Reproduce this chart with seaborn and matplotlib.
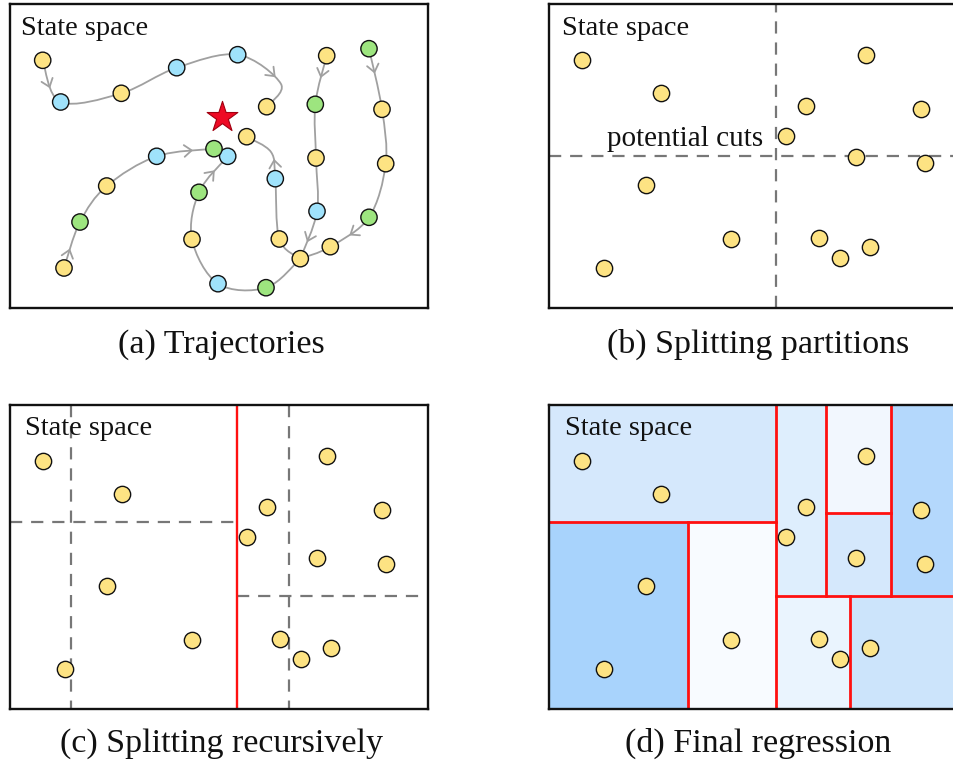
import numpy as np
import pandas as pd
import matplotlib
matplotlib.use("Agg")
import matplotlib.pyplot as plt
import seaborn as sns
from matplotlib.path import Path
from matplotlib.patches import PathPatch, Rectangle

# ---------------- data (panel-relative pixel coordinates) ----------------
# panel (a): trajectory nodes
traj_a_x = [32.7, 50.7, 111.3, 166.7, 227.7, 271.0, 256.7]
traj_a_y = [56.3, 98.0, 89.3, 63.7, 50.7, 80.0, 102.7]
traj_b_x = [54.0, 70.0, 96.7, 146.7, 204.0]
traj_b_y = [264.0, 218.0, 182.0, 152.3, 144.7]
traj_c_x = [290.3, 256.0, 208.0, 182.0, 189.0, 217.7]
traj_c_y = [254.7, 283.7, 279.7, 235.3, 188.3, 152.3]
traj_d_x = [290.3, 269.3, 265.3, 261.0, 236.7]
traj_d_y = [254.7, 235.0, 174.7, 148.0, 132.7]
traj_e_x = [316.7, 305.3, 306.0, 307.0, 290.3]
traj_e_y = [51.7, 100.3, 154.0, 207.3, 254.7]
traj_f_x = [359.0, 372.0, 375.7, 359.0, 320.3, 290.3]
traj_f_y = [44.7, 105.3, 159.7, 213.3, 242.7, 254.7]
trajectories = [(traj_a_x, traj_a_y), (traj_b_x, traj_b_y), (traj_c_x, traj_c_y),
                (traj_d_x, traj_d_y), (traj_e_x, traj_e_y), (traj_f_x, traj_f_y)]
# arrows: (trajectory index, segment index, position along segment)
arrow_traj = [0, 0, 1, 1, 2, 3, 4, 4, 5, 5]
arrow_seg = [0, 4, 0, 3, 4, 2, 0, 3, 0, 3]
arrow_t = [0.6, 0.75, 0.45, 0.55, 0.5, 0.6, 0.5, 0.55, 0.45, 0.5]

# panel (a): visited states
state_x = [32.7, 111.3, 256.7, 236.7, 96.7, 182.0, 269.3, 290.3, 54.0, 306.0, 316.7, 372.0, 375.7, 320.3,
           50.7, 166.7, 227.7, 146.7, 217.7, 265.3, 208.0, 307.0,
           204.0, 189.0, 70.0, 256.0, 305.3, 359.0, 359.0]
state_y = [56.3, 89.3, 102.7, 132.7, 182.0, 235.3, 235.0, 254.7, 264.0, 154.0, 51.7, 105.3, 159.7, 242.7,
           98.0, 63.7, 50.7, 152.3, 152.3, 174.7, 279.7, 207.3,
           144.7, 188.3, 218.0, 283.7, 100.3, 44.7, 213.3]
state_kind = ["y"] * 14 + ["b"] * 8 + ["g"] * 7
star_x, star_y = [211.7], [113.3]

# panels (b)-(d): samples
pts_x = [33.3, 111.7, 317.0, 257.3, 372.3, 237.0, 306.7, 376.3, 97.3, 182.3, 270.0, 291.0, 321.0, 54.7]
pts_y = [56.0, 88.7, 51.3, 102.3, 104.7, 131.7, 153.3, 159.3, 181.3, 235.3, 234.3, 254.0, 242.7, 263.7]

# panel (b) potential cuts
cut_v = 227.0
cut_h = 151.7

# panel (c): recursive split (x0, y0, x1, y1)
red_c = [(227.0, 0.0, 227.0, 304.0)]
dash_c = [(0.0, 117.0, 227.0, 117.0), (60.7, 0.0, 60.7, 304.0),
          (279.0, 0.0, 279.0, 304.0), (227.0, 190.7, 418.0, 190.7)]

# panel (d): leaf regions (x0, y0, x1, y1) and colours
reg_x0 = [0.0, 0.0, 139.3, 227.0, 277.0, 277.0, 341.7, 227.0, 301.3]
reg_y0 = [0.0, 117.3, 117.3, 0.0, 0.0, 108.3, 0.0, 190.7, 190.7]
reg_x1 = [227.0, 139.3, 227.0, 277.0, 341.7, 341.7, 418.0, 301.3, 418.0]
reg_y1 = [117.3, 304.0, 304.0, 190.7, 108.3, 190.7, 190.7, 304.0, 304.0]
reg_col = ["#d5e8fc", "#a8d3fc", "#f8fbff", "#deeefd", "#f2f7fe", "#d5e8fc", "#b4d8fc", "#eaf4fe", "#cce4fb"]
red_d = [(0.0, 117.3, 227.0, 117.3), (139.3, 117.3, 139.3, 304.0), (227.0, 0.0, 227.0, 304.0),
         (277.0, 0.0, 277.0, 190.7), (227.0, 190.7, 418.0, 190.7), (277.0, 108.3, 341.7, 108.3),
         (341.7, 0.0, 341.7, 190.7), (301.3, 190.7, 301.3, 304.0)]

captions = ["(a) Trajectories", "(b) Splitting partitions", "(c) Splitting recursively", "(d) Final regression"]

# ---------------- style ----------------
sns.set_theme(style="white")
plt.rcParams["font.family"] = ["Liberation Serif", "DejaVu Serif"]

W, H = 954, 769
PW, PH = 418, 304
YELLOW, BLUE, GREEN = "#fde383", "#9fe2fb", "#9de57f"
GRAY = "#a0a0a0"
DASH = "#777777"
RED = "#ff1010"
PT_S = 138

fig = plt.figure(figsize=(W / 100, H / 100), dpi=100)


def make_ax(left, top):
    ax = fig.add_axes([left / W, 1 - (top + PH) / H, PW / W, PH / H])
    ax.set_xlim(0, PW)
    ax.set_ylim(PH, 0)
    ax.set_xticks([])
    ax.set_yticks([])
    for s in ax.spines.values():
        s.set_linewidth(1.7)
        s.set_color("#111111")
        s.set_zorder(10)
    return ax


def cr_segments(xs, ys):
    P = np.column_stack([xs, ys]).astype(float)
    ext = np.vstack([P[0], P, P[-1]])
    verts, codes, segs = [P[0]], [Path.MOVETO], []
    for i in range(len(P) - 1):
        p0, p1, p2, p3 = ext[i], ext[i + 1], ext[i + 2], ext[i + 3]
        c1 = p1 + (p2 - p0) / 6
        c2 = p2 - (p3 - p1) / 6
        verts += [c1, c2, p2]
        codes += [Path.CURVE4] * 3
        segs.append((p1, c1, c2, p2))
    return Path(verts, codes), segs


def chevron(ax, seg, t, L=9.5, ang=38):
    p0, c1, c2, p3 = seg
    pos = (1 - t) ** 3 * p0 + 3 * (1 - t) ** 2 * t * c1 + 3 * (1 - t) * t ** 2 * c2 + t ** 3 * p3
    d = 3 * (1 - t) ** 2 * (c1 - p0) + 6 * (1 - t) * t * (c2 - c1) + 3 * t ** 2 * (p3 - c2)
    d = -d / np.linalg.norm(d)
    out = []
    for a in (ang, -ang):
        r = np.deg2rad(a)
        R = np.array([[np.cos(r), -np.sin(r)], [np.sin(r), np.cos(r)]])
        out.append(pos + L * (R @ d))
    ax.plot([out[0][0], pos[0], out[1][0]], [out[0][1], pos[1], out[1][1]],
            color=GRAY, lw=1.3, zorder=2, solid_capstyle="round")


def label(ax, x, y):
    ax.text(x, y, "State space", fontsize=20.5, va="baseline", ha="left", color="#111111", zorder=6)


def samples(ax):
    df = pd.DataFrame({"x": pts_x, "y": pts_y})
    sns.scatterplot(data=df, x="x", y="y", ax=ax, color=YELLOW, s=PT_S,
                    edgecolor="#111111", linewidth=1.0, zorder=5, legend=False)
    ax.set_xlabel("")
    ax.set_ylabel("")


# ---------------- (a) trajectories ----------------
ax_a = make_ax(10, 4)
all_segs = []
for xs, ys in trajectories:
    path, segs = cr_segments(xs, ys)
    ax_a.add_patch(PathPatch(path, facecolor="none", edgecolor=GRAY, lw=1.3, zorder=2))
    all_segs.append(segs)
for ti, si, t in zip(arrow_traj, arrow_seg, arrow_t):
    chevron(ax_a, all_segs[ti][si], t)
df_a = pd.DataFrame({"x": state_x, "y": state_y, "kind": state_kind})
sns.scatterplot(data=df_a, x="x", y="y", hue="kind", palette={"y": YELLOW, "b": BLUE, "g": GREEN},
                s=PT_S, edgecolor="#111111", linewidth=1.0, ax=ax_a, zorder=5, legend=False)
ax_a.scatter(star_x, star_y, marker="*", s=540, color="#ee0a24", edgecolor="#a00010",
             linewidth=0.8, zorder=6)
ax_a.set_xlabel("")
ax_a.set_ylabel("")
label(ax_a, 11, 31)

# ---------------- (b) potential cuts ----------------
ax_b = make_ax(549, 4)
ax_b.axvline(cut_v, color=DASH, lw=1.6, dashes=(5.5, 4), zorder=3)
ax_b.axhline(cut_h, color=DASH, lw=1.6, dashes=(5.5, 4), zorder=3)
samples(ax_b)
label(ax_b, 13, 31)
ax_b.text(58, 142, "potential cuts", fontsize=21, va="baseline", ha="left", color="#111111", zorder=6)

# ---------------- (c) recursive splits ----------------
ax_c = make_ax(10, 405)
for x0, y0, x1, y1 in dash_c:
    ax_c.plot([x0, x1], [y0, y1], color=DASH, lw=1.6, dashes=(5.5, 4), zorder=3)
for x0, y0, x1, y1 in red_c:
    ax_c.plot([x0, x1], [y0, y1], color=RED, lw=1.7, zorder=4)
samples(ax_c)
label(ax_c, 15, 30)

# ---------------- (d) final regression ----------------
ax_d = make_ax(549, 405)
for x0, y0, x1, y1, c in zip(reg_x0, reg_y0, reg_x1, reg_y1, reg_col):
    ax_d.add_patch(Rectangle((x0, y0), x1 - x0, y1 - y0, facecolor=c, edgecolor="none", zorder=0))
for x0, y0, x1, y1 in red_d:
    ax_d.plot([x0, x1], [y0, y1], color=RED, lw=2.0, zorder=4, solid_capstyle="projecting")
samples(ax_d)
label(ax_d, 16, 30)

# ---------------- captions ----------------
fig.text(221 / W, 1 - 353 / H, captions[0], fontsize=24.5, ha="center", va="baseline", color="#111111")
fig.text(758 / W, 1 - 353 / H, captions[1], fontsize=24.5, ha="center", va="baseline", color="#111111")
fig.text(221 / W, 1 - 752 / H, captions[2], fontsize=24.5, ha="center", va="baseline", color="#111111")
fig.text(758 / W, 1 - 752 / H, captions[3], fontsize=24.5, ha="center", va="baseline", color="#111111")

fig.savefig("out.png", dpi=100, facecolor="white")
